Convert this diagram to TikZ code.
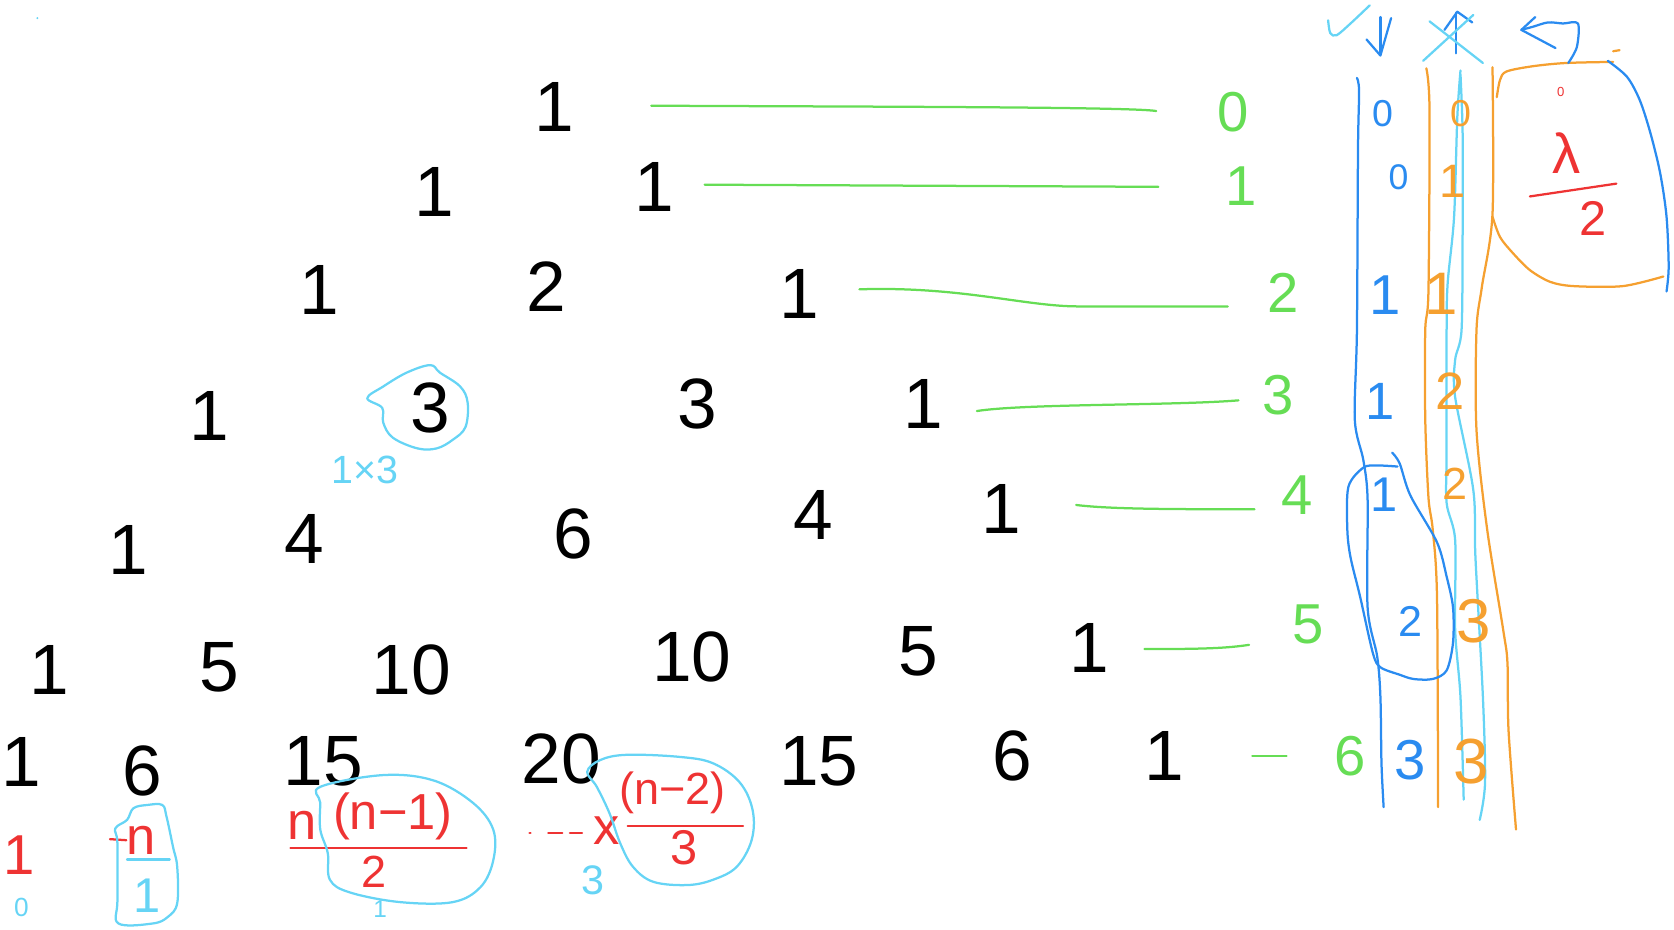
\documentclass[tikz,border=0pt]{standalone}
\usepackage{fontspec}
\setmainfont{Liberation Sans}
\definecolor{grn}{HTML}{66DD55}
\definecolor{blu}{HTML}{2A8BF0}
\definecolor{lbl}{HTML}{66D4F5}
\definecolor{org}{HTML}{F5A030}
\definecolor{rd}{HTML}{EE3333}
\newcommand\myfs[1]{\fontsize{#1}{#1}\selectfont}
\begin{document}
\begin{tikzpicture}[x=0.02cm,y=-0.02cm,line cap=round,line join=round,
  every node/.style={inner sep=0pt,outer sep=0pt},
  pen/.style={line width=1.2pt},
  bk/.style={font=\myfs{38}},
  gl/.style={text=grn,font=\myfs{30}},
  gline/.style={pen,draw=grn},
  lbpen/.style={pen,draw=lbl},
  blpen/.style={pen,draw=blu},
  orpen/.style={pen,draw=org},
  rdpen/.style={pen,draw=rd}]
\useasboundingbox (0,0) rectangle (1568,871);
\fill[lbl] (35,17) circle (1);
% ---- Pascal triangle
\node[bk] (r0a) at (519,100) {1};
\node[bk] (r1a) at (407,180) {1};
\node[bk] (r1b) at (613,175) {1};
\node[bk] (r2a) at (299,272) {1};
\node[bk] (r2b) at (512,268) {2};
\node[bk] (r2c) at (749,275) {1};
\node[bk] (r3a) at (196,390) {1};
\node[bk] (r3b) at (403,382) {3};
\node[bk] (r3c) at (653,378) {3};
\node[bk] (r3d) at (865,378) {1};
\node[bk] (r4a) at (120,515) {1};
\node[bk] (r4b) at (285,505) {4};
\node[bk] (r4c) at (537,500) {6};
\node[bk] (r4d) at (762,482) {4};
\node[bk] (r4e) at (938,477) {1};
\node[bk] (r5a) at (46,628) {1};
\node[bk] (r5b) at (205,625) {5};
\node[bk] (r5c) at (385,628) {10};
\node[bk] (r5d) at (648,615) {10};
\node[bk] (r5e) at (860,610) {5};
\node[bk] (r5f) at (1020,607) {1};
\node[bk] (r6a) at (20,714) {1};
\node[bk] (r6b) at (133,722) {6};
\node[bk] (r6c) at (303,713) {15};
\node[bk] (r6d) at (526,711) {20};
\node[bk] (r6e) at (767,713) {15};
\node[bk] (r6f) at (948,708) {6};
\node[bk] (r6g) at (1091,708) {1};
% ---- green row labels and lines
\node[gl] (g0) at (1155,105) {0};
\node[gl] (g1) at (1163,174) {1};
\node[gl] (g2) at (1202,274) {2};
\node[gl] (g3) at (1197,370) {3};
\node[gl] (g4) at (1215,464) {4};
\node[gl] (g5) at (1225,585) {5};
\node[gl] (g6) at (1265,708) {6};
\coordinate (g0s) at (610,99);  \coordinate (g0e) at (1083,104);
\coordinate (g1s) at (660,173); \coordinate (g1e) at (1085,175);
\coordinate (g2s) at (805,271); \coordinate (g2e) at (1150,287);
\coordinate (g3s) at (915,385); \coordinate (g3e) at (1160,375);
\coordinate (g4s) at (1008,473);\coordinate (g4e) at (1175,477);
\coordinate (g5s) at (1072,608);\coordinate (g5e) at (1170,604);
\coordinate (g6s) at (1173,708);\coordinate (g6e) at (1205,708);
\draw[gline] (g0s) .. controls (800,100) and (1060,100) .. (g0e);
\draw[gline] (g1s) -- (g1e);
\draw[gline] (g2s) .. controls (900,268) and (960,287) .. (1010,287) -- (g2e);
\draw[gline] (g3s) .. controls (960,378) and (1100,380) .. (g3e);
\draw[gline] (g4s) .. controls (1040,477) and (1100,477) .. (g4e);
\draw[gline] (g5s) .. controls (1130,608) and (1150,607) .. (g5e);
\draw[gline] (g6s) -- (g6e);
% ---- circled 3 and 1x3
\draw[lbpen] plot[smooth cycle,tension=0.6] coordinates {(344,373) (359,362) (381,349) (403,342) (412,349) (431,362) (438,377) (436,400) (424,412) (409,420) (391,420) (368,410) (359,396) (358,382)};
\node[text=lbl,font=\myfs{21}] (m13) at (342,440) {1×3};
% ---- bottom left formulas
\node[text=rd,font=\myfs{30}] (f1) at (18,801) {1};
\node[text=lbl,font=\myfs{14}] (f0) at (20,850) {0};
\node[text=rd,font=\myfs{28}] (fn) at (132,787) {n};
\draw[rdpen] (103,786) -- (fn.west);
\coordinate (b1l) at (119,805); \coordinate (b1r) at (159,805);
\draw[lbpen] (b1l) -- (b1r);
\node[text=lbl,font=\myfs{26}] (fd1) at (138,839) {1};
\draw[lbpen] plot[smooth cycle,tension=0.6] coordinates {(125,757) (138,754) (152,754) (156,765) (162,793) (166,812) (166,846) (157,859) (143,865) (111,865) (110,843) (110,790) (108,776) (119,768)};
\node[text=rd,font=\myfs{28}] (fn2) at (283,773) {n};
\node[text=rd,font=\myfs{27}] (fnm1) at (368,765) {(n−1)};
\coordinate (b2l) at (272,794); \coordinate (b2r) at (437,794);
\draw[rdpen] (b2l) -- (b2r);
\node[text=rd,font=\myfs{24}] (fd2) at (350,817) {2};
\node[text=lbl,font=\myfs{13}] (fl1) at (356,852) {1};
\draw[lbpen] plot[smooth cycle,tension=0.6] coordinates {(300,737) (359,726) (406,731) (443,752) (462,777) (462,806) (450,831) (424,845) (375,845) (328,836) (309,824) (307,799) (300,777) (300,752)};
\node[text=rd,font=\myfs{28}] (fx) at (568,778) {x};
\coordinate (dsh) at (496,780);
\draw[rdpen,dash pattern=on 0.5pt off 9.5pt on 7.5pt off 4pt on 6.5pt off 20pt] (dsh) -- (548,780);
\node[text=rd,font=\myfs{24}] (fnm2) at (630,743) {(n−2)};
\coordinate (b3l) at (588,774); \coordinate (b3r) at (696,774);
\draw[rdpen] (b3l) -- (b3r);
\node[text=rd,font=\myfs{26}] (fd3) at (641,794) {3};
\node[text=lbl,font=\myfs{22}] (fl3) at (555,825) {3};
\draw[lbpen] plot[smooth cycle,tension=0.6] coordinates {(550,723) (562,712) (587,707) (637,709) (668,715) (693,733) (705,759) (704,787) (690,812) (668,824) (644,829) (612,826) (593,812) (581,790) (571,762) (559,737)};
% ---- right side columns
\draw[lbpen] plot[smooth] coordinates {(1244,19) (1246,31) (1252,33) (1265,22) (1283,5)};
\draw[blpen] (1293,16) -- (1293,50);
\draw[blpen] (1280,37) -- (1293,52) -- (1303,17);
\draw[blpen] (1364,50) -- (1364,12);
\draw[blpen] (1353,28) -- (1365,11) -- (1379,21);
\draw[lbpen] (1339,20) -- (1389,59);
\draw[lbpen] (1333,57) -- (1380,14);
\draw[blpen] plot[smooth] coordinates {(1271,73) (1273,85) (1272,140) (1271,309) (1269,393) (1277,431) (1281,468) (1281,569) (1290,615) (1293,653) (1294,715) (1296,756)};
\draw[orpen] plot[smooth] coordinates {(1336,64) (1339,103) (1338,272) (1335,309) (1335,393) (1338,466) (1342,496) (1346,559) (1347,756)};
\draw[orpen] plot[smooth] coordinates {(1398,63) (1398,200) (1388,269) (1383,309) (1383,403) (1393,496) (1408,590) (1412,621) (1413,684) (1420,777)};
\draw[lbpen] plot[smooth] coordinates {(1368,66) (1365,110) (1362,203) (1356,265) (1355,309) (1355,422) (1355,471) (1363,506) (1363,590) (1368,653) (1371,749)};
\draw[lbpen] plot[smooth] coordinates {(1368,70) (1370,125) (1370,218) (1369,309) (1363,337) (1363,372) (1380,459) (1382,522) (1389,653) (1391,733) (1386,768)};
\draw[blpen] plot[smooth] coordinates {(1309,437) (1290,436) (1277,438) (1263,456) (1262,496) (1265,522) (1274,559) (1286,612) (1293,625) (1311,632) (1324,636) (1342,636) (1355,628) (1361,602) (1361,569) (1355,540) (1346,508) (1321,464) (1311,434) (1304,424)};
% blue numbers
\node[text=blu,font=\myfs{20}] (c1a) at (1295,106) {0};
\node[text=blu,font=\myfs{19}] (c1b) at (1310,166) {0};
\node[text=blu,font=\myfs{30}] (c1c) at (1297,276) {1};
\node[text=blu,font=\myfs{28}] (c1d) at (1293,376) {1};
\node[text=blu,font=\myfs{26}] (c1e) at (1296,463) {1};
\node[text=blu,font=\myfs{23}] (c1f) at (1321,582) {2};
\node[text=blu,font=\myfs{30}] (c1g) at (1321,712) {3};
% orange numbers
\node[text=org,font=\myfs{20}] (c2a) at (1368,106) {0};
\node[text=org,font=\myfs{25}] (c2b) at (1361,170) {1};
\node[text=org,font=\myfs{32}] (c2c) at (1350,275) {1};
\node[text=org,font=\myfs{28}] (c2d) at (1358,366) {2};
\node[text=org,font=\myfs{24}] (c2e) at (1363,453) {2};
\node[text=org,font=\myfs{33}] (c2f) at (1380,582) {3};
\node[text=org,font=\myfs{34}] (c2g) at (1378,713) {3};
% box top right
\draw[orpen] plot[smooth] coordinates {(1402,91) (1405,75) (1411,67) (1436,62) (1467,59) (1511,58)};
\draw[orpen] plot[smooth] coordinates {(1398,203) (1405,222) (1417,237) (1433,253) (1452,264) (1474,268) (1520,268) (1558,259)};
\draw[orpen] (1511,48) -- (1517,47);
\draw[blpen] plot[smooth] coordinates {(1506,57) (1524,72) (1536,94) (1546,125) (1555,162) (1561,203) (1563,250) (1561,273)};
\draw[blpen] plot[smooth] coordinates {(1469,59) (1477,44) (1478,22) (1464,22) (1450,21) (1436,25) (1425,28)};
\draw[blpen] (1438,16) -- (1425,28) -- (1457,45);
\node[text=rd,font=\myfs{7}] (t0) at (1462,86) {0};
\node[text=rd,font=\myfs{30}] (tl) at (1467,143) {λ};
\coordinate (b4l) at (1433,184); \coordinate (b4r) at (1514,172);
\draw[rdpen] (b4l) -- (b4r);
\node[text=rd,font=\myfs{26}] (t2) at (1492,205) {2};
\end{tikzpicture}
\end{document}
